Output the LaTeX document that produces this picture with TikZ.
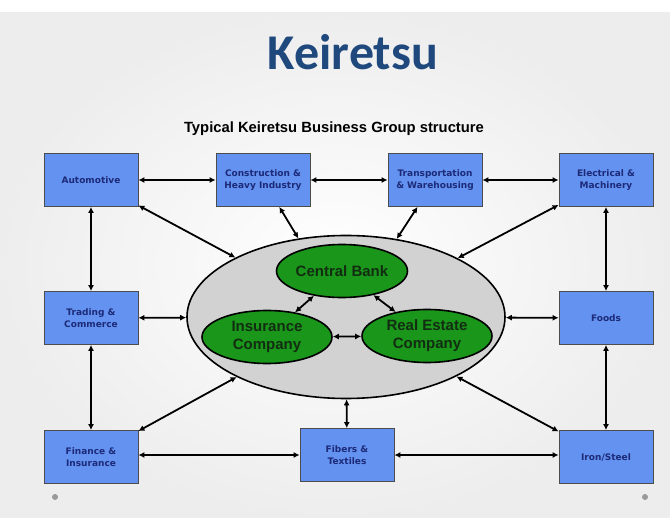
\documentclass[tikz,border=0pt]{standalone}
\usepackage{fontspec}
\setmainfont{Liberation Sans}
\newfontfamily\titlefont{Carlito}
\newfontfamily\boxfont{DejaVu Sans}
\usetikzlibrary{shapes.geometric,arrows.meta}
\definecolor{titleblue}{RGB}{31,73,125}
\definecolor{boxblue}{RGB}{100,146,240}
\definecolor{boxtext}{RGB}{28,42,120}
\definecolor{bankgreen}{RGB}{26,150,26}
\definecolor{banktext}{RGB}{18,45,18}
\definecolor{ovalgray}{RGB}{210,210,210}
\begin{document}
\begin{tikzpicture}[x=1pt,y=-1pt,
  sector/.style={draw=black!70, line width=0.8pt, fill=boxblue, minimum width=94pt, minimum height=53pt,
    inner sep=1pt, align=center, text=boxtext, font=\boxfont\bfseries\fontsize{9}{12}\selectfont},
  member/.style={ellipse, draw=black, line width=1.6pt, fill=bankgreen, inner sep=0pt,
    minimum width=131pt, minimum height=53pt, align=center, text=banktext,
    font=\bfseries\fontsize{15}{18}\selectfont},
  link/.style={line width=1.8pt, {Latex[length=6pt,width=6pt]}-{Latex[length=6pt,width=6pt]}}]
\useasboundingbox (0,0) rectangle (670,518);
% slide background
\shade[inner color=white, outer color=black!7] (0,12) rectangle (670,518);
\fill[white] (0,0) rectangle (670,12);
\fill[black!40] (55,497) circle (3);
\fill[black!40] (645,497) circle (3);
% titles
\node[anchor=base, text=titleblue, font=\titlefont\bfseries\fontsize{50}{52}\selectfont] (title) at (353,70) {Keiretsu};
\node[anchor=base, font=\bfseries\fontsize{14.8}{17}\selectfont] (subtitle) at (334,133) {Typical Keiretsu Business Group structure};
% industry boxes
\node[sector] (auto) at (91,180) {Automotive};
\node[sector] (constr) at (263,180) {Construction \&\\Heavy Industry};
\node[sector] (transp) at (435,180) {Transportation\\\& Warehousing};
\node[sector] (elec) at (606,180) {Electrical \&\\Machinery};
\node[sector] (trade) at (91,318) {Trading \&\\Commerce};
\node[sector] (foods) at (606,318) {Foods};
\node[sector] (fin) at (91,457) {Finance \&\\Insurance};
\node[sector] (fiber) at (347,455) {Fibers \&\\Textiles};
\node[sector] (iron) at (606,457) {Iron/Steel};
% core group
\node[ellipse, draw=black, line width=1.6pt, fill=ovalgray, minimum width=318pt, minimum height=163pt] (group) at (346,317) {};
\node[member] (bank) at (342,271) {Central Bank};
\node[member, minimum width=130pt] (insur) at (267,337) {Insurance\\Company};
\node[member, minimum width=130pt] (estate) at (427,336) {Real Estate\\Company};
% ring of links
\draw[link] (auto) -- (constr);
\draw[link] (constr) -- (transp);
\draw[link] (transp) -- (elec);
\draw[link] (auto) -- (trade);
\draw[link] (trade) -- (fin);
\draw[link] (elec) -- (foods);
\draw[link] (foods) -- (iron);
\draw[link] (fin.east |- fiber.west) -- (fiber.west);
\draw[link] (fiber.east) -- (iron.west |- fiber.east);
% links to the group
\draw[link] (auto) -- (group);
\draw[link] (constr) -- (group);
\draw[link] (transp) -- (group);
\draw[link] (elec) -- (group);
\draw[link] (trade) -- (group);
\draw[link] (foods) -- (group);
\draw[link] (fin) -- (group);
\draw[link] (fiber) -- (group);
\draw[link] (iron) -- (group);
% inside the group
\draw[link] (bank) -- (insur);
\draw[link] (bank) -- (estate);
\draw[link] (insur) -- (estate);
\end{tikzpicture}
\end{document}
